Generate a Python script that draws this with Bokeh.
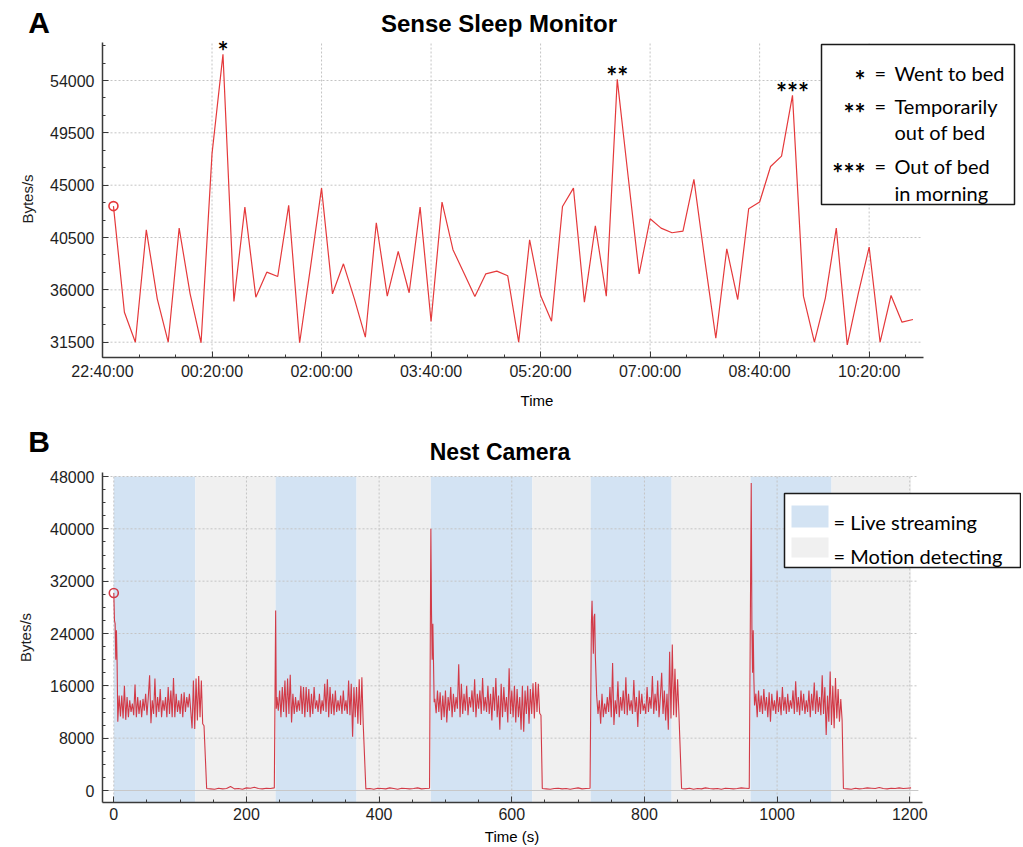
import numpy as np
from bokeh.plotting import figure
from bokeh.layouts import column
from bokeh.models import Range1d, FixedTicker, Label, BoxAnnotation, Div
from bokeh.core.properties import value
from bokeh.embed import file_html
from bokeh.resources import INLINE

# ---------------- Data: Sense Sleep Monitor ----------------
sleep_axis_origin = "22:40:00"
sleep_first_sample = "22:50:00"
sleep_step_min = 10
sleep_bytes = [43200, 34080, 31500, 41165, 35230, 31500, 41310, 35660, 31450, 47700,
               56250, 35000, 43115, 35370, 37520, 37150, 43260, 31450, 38000, 44750,
               35660, 38240, 35230, 31930, 41770, 35460, 39300, 35750, 43115, 33280,
               43550, 39450, 37450, 35430, 37380, 37610, 37210, 31500, 40300, 35515,
               33300, 43170, 44750, 34940, 41510, 35460, 54100, 45700, 37380, 42110,
               41310, 40910, 41050, 45500, 38530, 31840, 39530, 35170, 42970, 43550,
               46610, 47500, 52720, 35460, 31500, 35290, 41310, 31270, 35660, 39670,
               31500, 35515, 33220, 33450]
sleep_mark_text = ["*", "**", "***"]
sleep_mark_index = [10, 46, 62]
sleep_tick_labels = ["22:40:00", "00:20:00", "02:00:00", "03:40:00",
                     "05:20:00", "07:00:00", "08:40:00", "10:20:00"]
sleep_axis_end = "11:10:00"
sleep_yticks = [31500, 36000, 40500, 45000, 49500, 54000]
sleep_legend_marks = ["*", "**", "***"]
sleep_legend_texts = [["Went to bed"], ["Temporarily", "out of bed"], ["Out of bed", "in morning"]]

# ---------------- Data: Nest Camera ----------------
live1_head = [30200, 26000, 25500, 20000, 24500, 19500, 10500]
live1_body = [14500, 11300, 14500, 11000, 16000, 10800, 14300, 11200, 13800, 12000,
              13300, 11500, 16200, 11200, 14300, 11700, 13800, 11200, 14000, 12200,
              14800, 11500, 14300, 17600, 10300, 13800, 11700, 17100, 11200, 14300,
              12000, 15500, 11200, 13800, 12200, 14300, 11200, 15800, 11700, 15300,
              11200, 17200, 11200, 14800, 12000, 13800, 11700, 14800, 11200, 15000,
              12000, 14300, 12700, 14800, 12200, 9500, 16800, 9400, 17100, 10700,
              17500, 11200, 16800, 10200, 9900]
idle1 = [300, 250, 200, 350, 250, 300, 600, 250, 300, 200, 400, 350, 500, 300, 250, 350, 300, 400]
live2_head = [27500, 12500]
live2_body = [14300, 12200, 15300, 11200, 15800, 12000, 16800, 11200, 17100, 11700,
              17700, 10400, 14800, 11700, 14300, 12000, 13800, 12200, 16000, 11700,
              15800, 11200, 15800, 12000, 15500, 11200, 14800, 11700, 15800, 12500,
              13800, 12000, 14800, 11700, 13800, 12200, 16300, 12000, 17000, 11200,
              15800, 11700, 14800, 11500, 15300, 12000, 13800, 12200, 14500, 11700,
              15300, 12200, 13800, 11700, 16800, 11500, 16300, 8200, 15800, 11200,
              15800, 10200, 17000, 10000, 17300, 10200]
idle2 = [250, 300, 200, 350, 300, 250, 400, 300, 200, 350, 300, 250, 300, 400, 250, 300, 350]
live3_head = [40000, 27000, 20000, 25500, 19500, 13500]
live3_body = [14000, 11800, 15300, 12000, 15000, 10800, 14500, 11200, 15300, 10400,
              14300, 12200, 15800, 11200, 14800, 12000, 14300, 12500, 19300, 11200,
              16300, 11700, 14800, 12200, 16000, 11500, 14300, 12700, 15300, 12000,
              17000, 11200, 14800, 12500, 15300, 11700, 17200, 12200, 14300, 12000,
              16000, 11700, 14800, 10700, 15800, 12200, 17200, 11200, 14500, 9300,
              16300, 11200, 15800, 12000, 14300, 10400, 18700, 11700, 15300, 11200,
              16000, 10400, 15500, 11200, 14300, 9300, 16000, 9000, 15300, 11700,
              16000, 10200, 15500, 11700,
              16400, 11000, 16600, 12000, 16300, 11800, 11500]
idle3 = [300, 250, 200, 300, 350, 250, 300, 200, 300, 400, 250, 300, 350]
live4_head = [25500, 29000, 24500, 20900, 26500, 27000, 20500]
live4_body = [14500, 11700, 13800, 10200, 14800, 11200, 13300, 11700, 14300, 12000,
              15800, 11200, 19500, 10000, 13800, 11700, 16700, 11200, 14300, 12200,
              15300, 11700, 17300, 11500, 14800, 12200, 13800, 11700, 16900, 12000,
              14300, 9700, 15300, 11700, 14800, 12200, 13300, 11700, 15800, 12000,
              14300, 12500, 17500, 11700, 14800, 12200, 16800, 11200, 14300, 18000,
              11700, 15300, 10700, 14800, 9300,
              21200, 11000, 22300, 11500, 18600, 11200, 17000, 11700]
idle4 = [300, 250, 350, 200, 300, 250, 400, 300, 250, 300, 200, 350, 300, 250, 300, 400, 350, 300]
live5_head = [47000, 25000, 18000, 24500, 17000, 13000]
live5_body = [14800, 11200, 15300, 12000, 14500, 11700, 15500, 12200, 14300, 11200,
              15000, 10500, 14800, 12200, 13800, 11700, 15300, 12000, 14300, 11500,
              15800, 12200, 14300, 11700, 14800, 12000, 13800, 12500, 15300, 11700,
              16700, 12000, 14300, 11500, 15300, 12200, 14800, 11700, 13800, 12000,
              15300, 11200, 14800, 12200, 16500, 11700, 15300, 12000, 14300, 11500,
              17600, 11700, 15800, 8500, 14500, 10500, 18200,
              10000, 16000, 9500, 17200, 11000, 15500, 10500, 14000, 10800]
idle5 = [300, 250, 200, 350, 250, 300, 400, 350, 300, 450, 300, 250, 350, 300, 400, 300, 350, 400]
# (first sample time in s, sampling step in s, values)
cam_pieces = [(0, 1, live1_head), (8, 2, live1_body), (140, 6, idle1),
              (244, 1, live2_head), (246, 2, live2_body), (380, 6, idle2),
              (478, 1, live3_head), (484, 2, live3_body), (646, 6, idle3),
              (720, 1, live4_head), (728, 2, live4_body), (856, 6, idle4),
              (961, 1, live5_head), (968, 2, live5_body), (1100, 6, idle5)]
cam_band_start = [0, 123, 244, 366, 478, 631, 719, 841, 960, 1082]
cam_band_end = [123, 244, 366, 478, 631, 719, 841, 960, 1082, 1202]
cam_band_mode = ["live", "motion", "live", "motion", "live", "motion", "live", "motion", "live", "motion"]
cam_xticks = [0, 200, 400, 600, 800, 1000, 1200]
cam_yticks = [0, 8000, 16000, 24000, 32000, 40000, 48000]
cam_legend = [("live", "= Live streaming"), ("motion", "= Motion detecting")]

# ---------------- styling constants ----------------
RED = "#e5393b"
CAM_RED = "#d23a47"
BLUE = "#d3e3f3"
GRAY = "#f0f0f0"
GRID = "#c4c4c4"
AXIS = "#3a3a3a"
TICKFONT = "Liberation Sans"
TEXTFONT = "Lato"
W = 1021


def hms_to_min(s):
    h, m, sec = [int(v) for v in s.split(":")]
    return h * 60 + m + sec / 60.0


def rel_min(s, origin):
    return (hms_to_min(s) - hms_to_min(origin)) % 1440


def style_axis(ax, standoff):
    ax.axis_line_color = AXIS
    ax.axis_line_width = 1.5
    ax.major_tick_in = 6
    ax.major_tick_out = 0
    ax.minor_tick_in = 3
    ax.minor_tick_out = 0
    ax.major_tick_line_color = AXIS
    ax.minor_tick_line_color = AXIS
    ax.major_label_text_font = TICKFONT
    ax.major_label_text_font_size = "16px"
    ax.major_label_text_color = "#1e1e1e"
    ax.major_label_standoff = standoff
    ax.axis_label_text_font = TICKFONT
    ax.axis_label_text_font_size = "15px"
    ax.axis_label_text_font_style = "normal"
    ax.axis_label_text_color = "#1e1e1e"


def add_text(p, fl, fb, x, y, text, size, bold=False, align="left", font=TEXTFONT):
    p.add_layout(Label(x=x - fl, y=fb - y, x_units="screen", y_units="screen", text=text,
                       text_font=font, text_font_size=f"{size}px",
                       text_font_style="bold" if bold else "normal",
                       text_align=align, text_baseline="alphabetic", text_color="#000000"))


def add_box(p, fl, fb, x0, x1, y0, y1, fill, line=None, lw=1.5):
    p.add_layout(BoxAnnotation(left=x0 - fl, right=x1 - fl, top=fb - y0, bottom=fb - y1,
                               left_units="screen", right_units="screen",
                               top_units="screen", bottom_units="screen",
                               fill_color=fill, fill_alpha=1.0,
                               line_color=line if line else fill, line_alpha=1.0 if line else 0.0,
                               line_width=lw))


def svg_div(height, items):
    parts = []
    for (x, y, text, size, bold, anchor, font) in items:
        parts.append(
            f'<text x="{x}" y="{y}" font-family="{font}" font-size="{size}px" '
            f'font-weight="{"bold" if bold else "normal"}" text-anchor="{anchor}" fill="#000">{text}</text>')
    html = (f'<svg xmlns="http://www.w3.org/2000/svg" width="{W}" height="{height}" '
            f'style="display:block;overflow:visible">' + "".join(parts) + "</svg>")
    return Div(text=html, width=W, height=height, margin=(0, 0, 0, 0),
               styles={"padding": "0", "margin": "0", "overflow": "visible"})


# page layout (page y coordinates)
Y_HEAD1 = 0
H_HEAD1 = 36
P1_TOP = Y_HEAD1 + H_HEAD1          # 36
P1_FRAME_TOP = 40
P1_FRAME_BOT = 357
P1_BOT = 385
H_MID = 81                          # 385..466
P2_TOP = P1_BOT + H_MID             # 466
P2_FRAME_TOP = 472
P2_FRAME_BOT = 802
P2_BOT = 826
H_FOOT = 20

# ================= Figure A =================
fl1 = 100
px_per_min = 1.0976
x1_end = (W - fl1) / px_per_min
u_per_px1 = (sleep_yticks[-1] - sleep_yticks[0]) / (341.7 - 80.0)
y1_top = sleep_yticks[-1] + (80.0 - P1_FRAME_TOP) * u_per_px1
y1_bot = sleep_yticks[0] - (P1_FRAME_BOT - 341.7) * u_per_px1
y1_axis_top = sleep_yticks[-1] + (80.0 - 42) * u_per_px1
p1 = figure(width=W, height=P1_BOT - P1_TOP, x_range=Range1d(0, x1_end), y_range=Range1d(y1_bot, y1_top),
            output_backend="svg", toolbar_location=None,
            min_border_left=fl1, min_border_right=0,
            min_border_top=P1_FRAME_TOP - P1_TOP, min_border_bottom=P1_BOT - P1_FRAME_BOT)
p1.outline_line_color = None
p1.background_fill_color = None
p1.xgrid.visible = False
p1.ygrid.visible = False

sx0 = rel_min(sleep_first_sample, sleep_axis_origin)
sleep_x = [sx0 + sleep_step_min * i for i in range(len(sleep_bytes))]
sleep_tick_pos = [rel_min(t, sleep_axis_origin) for t in sleep_tick_labels]
x1_axis_end = rel_min(sleep_axis_end, sleep_axis_origin)
step_major = sleep_tick_pos[1] - sleep_tick_pos[0]
sleep_minor = list(np.arange(0, x1_axis_end + 0.1, step_major / 3.0))
ystep = (sleep_yticks[1] - sleep_yticks[0]) / 3.0
sleep_yminor = list(np.arange(sleep_yticks[0] - ystep, y1_axis_top, ystep))

p1.segment(x0=sleep_tick_pos, x1=sleep_tick_pos, y0=[y1_bot] * len(sleep_tick_pos),
           y1=[y1_axis_top] * len(sleep_tick_pos), line_color=GRID, line_dash="2 2", line_width=1)
p1.segment(x0=[0] * len(sleep_yticks), x1=[x1_axis_end - 3] * len(sleep_yticks), y0=sleep_yticks,
           y1=sleep_yticks, line_color=GRID, line_dash="2 2", line_width=1)

p1.line(sleep_x, sleep_bytes, line_color=RED, line_width=1.2)
p1.scatter([sleep_x[0]], [sleep_bytes[0]], marker="circle", size=9, fill_color=None,
           line_color=RED, line_width=1.6)
p1.text(x=[sleep_x[i] for i in sleep_mark_index], y=[sleep_bytes[i] for i in sleep_mark_index],
        text=sleep_mark_text, text_font=value(TEXTFONT), text_font_style="bold",
        text_font_size="26px", text_align="center", text_baseline="alphabetic",
        y_offset=-3, text_color="#000000")

p1.xaxis.ticker = FixedTicker(ticks=sleep_tick_pos, minor_ticks=sleep_minor)
p1.xaxis.major_label_overrides = {float(t): lab for t, lab in zip(sleep_tick_pos, sleep_tick_labels)}
p1.xaxis.bounds = (0, x1_axis_end)
p1.yaxis.ticker = FixedTicker(ticks=sleep_yticks, minor_ticks=sleep_yminor)
p1.yaxis.bounds = (y1_bot, y1_axis_top)
p1.yaxis.axis_label = "Bytes/s"
style_axis(p1.xaxis[0], 5)
style_axis(p1.yaxis[0], 8)
p1.yaxis.axis_label_standoff = 11

fb1 = P1_FRAME_BOT
add_box(p1, fl1, fb1, 819, 1012, 44, 204, "white", "#1a1a1a")
rows = [[72], [105, 131.7], [165.7, 192.3]]
for mark, texts, ys in zip(sleep_legend_marks, sleep_legend_texts, rows):
    add_text(p1, fl1, fb1, 863, ys[0] + 7, mark, 26, bold=True, align="right")
    add_text(p1, fl1, fb1, 872, ys[0], "=", 20)
    for t, yy in zip(texts, ys):
        add_text(p1, fl1, fb1, 892, yy, t, 20)

# ================= Figure B =================
fl2 = 102
px_per_s = 0.6633
x2_start = -(113.3 - fl2) / px_per_s
x2_end = x2_start + (W - fl2) / px_per_s
u_per_px2 = cam_yticks[-1] / (790.0 - 476.0)
y2_start = -(P2_FRAME_BOT - 790.0) * u_per_px2
y2_end = cam_yticks[-1] + (476.0 - P2_FRAME_TOP) * u_per_px2
p2 = figure(width=W, height=P2_BOT - P2_TOP, x_range=Range1d(x2_start, x2_end),
            y_range=Range1d(y2_start, y2_end),
            output_backend="svg", toolbar_location=None,
            min_border_left=fl2, min_border_right=0,
            min_border_top=P2_FRAME_TOP - P2_TOP, min_border_bottom=P2_BOT - P2_FRAME_BOT)
p2.outline_line_color = None
p2.background_fill_color = None
p2.xgrid.visible = False
p2.ygrid.visible = False

band_colors = [BLUE if m == "live" else GRAY for m in cam_band_mode]
p2.quad(left=cam_band_start, right=cam_band_end, bottom=[y2_start] * len(cam_band_start),
        top=[cam_yticks[-1]] * len(cam_band_start), fill_color=band_colors, line_color=None)

x2_axis_end = 1219
p2.segment(x0=cam_xticks, x1=cam_xticks, y0=[y2_start] * len(cam_xticks),
           y1=[cam_yticks[-1]] * len(cam_xticks), line_color=GRID, line_dash="2 2", line_width=1)
p2.segment(x0=[x2_start] * (len(cam_yticks) - 1), x1=[x2_axis_end - 6] * (len(cam_yticks) - 1),
           y0=cam_yticks[1:], y1=cam_yticks[1:], line_color=GRID, line_dash="2 2", line_width=1)
p2.segment(x0=[x2_start], x1=[x2_axis_end - 6], y0=[0], y1=[0], line_color="#c8c8c8", line_width=1.2)

cam_t, cam_v = [], []
for start, step, vals in cam_pieces:
    cam_t.extend([start + step * i for i in range(len(vals))])
    cam_v.extend(vals)
order = np.argsort(cam_t, kind="stable")
cam_t = [cam_t[i] for i in order]
cam_v = [cam_v[i] for i in order]
p2.line(cam_t, cam_v, line_color=CAM_RED, line_width=1.1)
p2.scatter([cam_t[0]], [cam_v[0]], marker="circle", size=9, fill_color=None,
           line_color=CAM_RED, line_width=1.6)

p2.xaxis.ticker = FixedTicker(ticks=cam_xticks, minor_ticks=list(range(0, 1201, 50)))
p2.xaxis.bounds = (x2_start, x2_axis_end)
p2.yaxis.ticker = FixedTicker(ticks=cam_yticks, minor_ticks=list(range(0, 48001, 2000)))
p2.yaxis.axis_label = "Bytes/s"
style_axis(p2.xaxis[0], 5)
style_axis(p2.yaxis[0], 8)
p2.yaxis.axis_label_standoff = 13

fb2 = P2_FRAME_BOT
add_box(p2, fl2, fb2, 784, 1020, 493, 567, "white", "#1a1a1a")
for (mode, text), (sy0, sy1, base) in zip(cam_legend, [(505, 527, 521), (537, 557, 555)]):
    add_box(p2, fl2, fb2, 791, 828, sy0, sy1, BLUE if mode == "live" else GRAY)
    add_text(p2, fl2, fb2, 833, base, text, 20)

# ================= header / label strips =================
head1 = svg_div(H_HEAD1, [(28.3, 32.5, "A", 30, True, "start", TEXTFONT),
                          (499, 31.7, "Sense Sleep Monitor", 24, True, "middle", TEXTFONT)])
mid = svg_div(H_MID, [(537, 406 - P1_BOT, "Time", 15, False, "middle", TICKFONT),
                      (28.3, 451.7 - P1_BOT, "B", 30, True, "start", TEXTFONT),
                      (500, 460.3 - P1_BOT, "Nest Camera", 23, True, "middle", TEXTFONT)])
foot = svg_div(H_FOOT, [(512, 842 - P2_BOT, "Time (s)", 15, False, "middle", TICKFONT)])

layout = column(head1, p1, mid, p2, foot, spacing=0)
open("out.html", "w").write(file_html(layout, INLINE))
